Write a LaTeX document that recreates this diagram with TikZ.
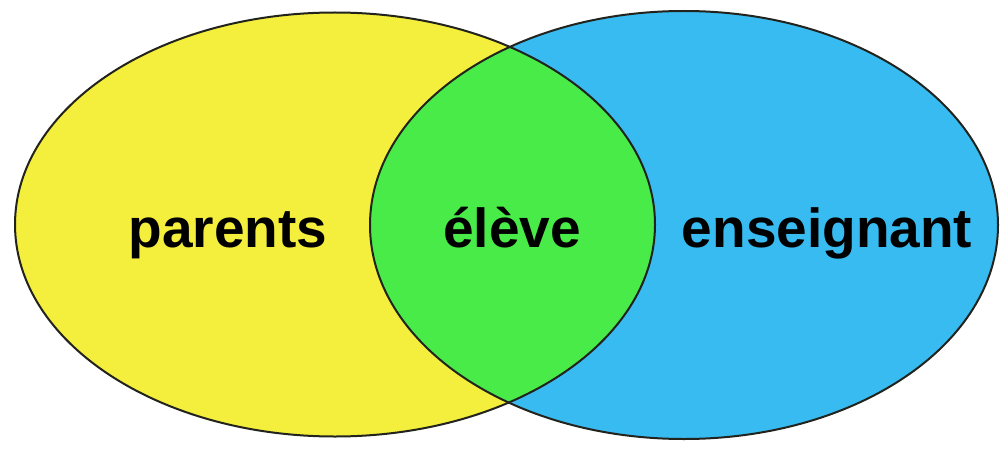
\documentclass[tikz,border=0pt]{standalone}
\usepackage{fontspec}
\setsansfont{Liberation Sans}
\definecolor{jaune}{RGB}{244,238,60}
\definecolor{bleu}{RGB}{56,187,240}
\definecolor{vert}{RGB}{72,235,72}
\definecolor{contour}{RGB}{35,35,30}
\tikzset{
  label/.style={font=\sffamily\bfseries\fontsize{55}{60}\selectfont, anchor=base, inner sep=0pt}
}
\begin{document}
\begin{tikzpicture}[x=1pt,y=1pt]
\useasboundingbox (0,0) rectangle (1000,448);
\fill[white](0,0) rectangle (1000,448);
\fill[jaune](335,223.5) ellipse [x radius=320, y radius=212];
\fill[bleu](684,223) ellipse [x radius=314, y radius=214];
\begin{scope}
\clip (335,223.5) ellipse [x radius=320, y radius=212];
\fill[vert](684,223) ellipse [x radius=314, y radius=214];
\end{scope}
\draw[line width=2pt, contour](335,223.5) ellipse [x radius=320, y radius=212];
\draw[line width=2pt, contour](684,223) ellipse [x radius=314, y radius=214];
\node[label] (parents) at (228,201) {parents};
\node[label] (eleve) at (512,201) {élève};
\node[label] (enseignant) at (827,201) {enseignant};
\end{tikzpicture}
\end{document}
